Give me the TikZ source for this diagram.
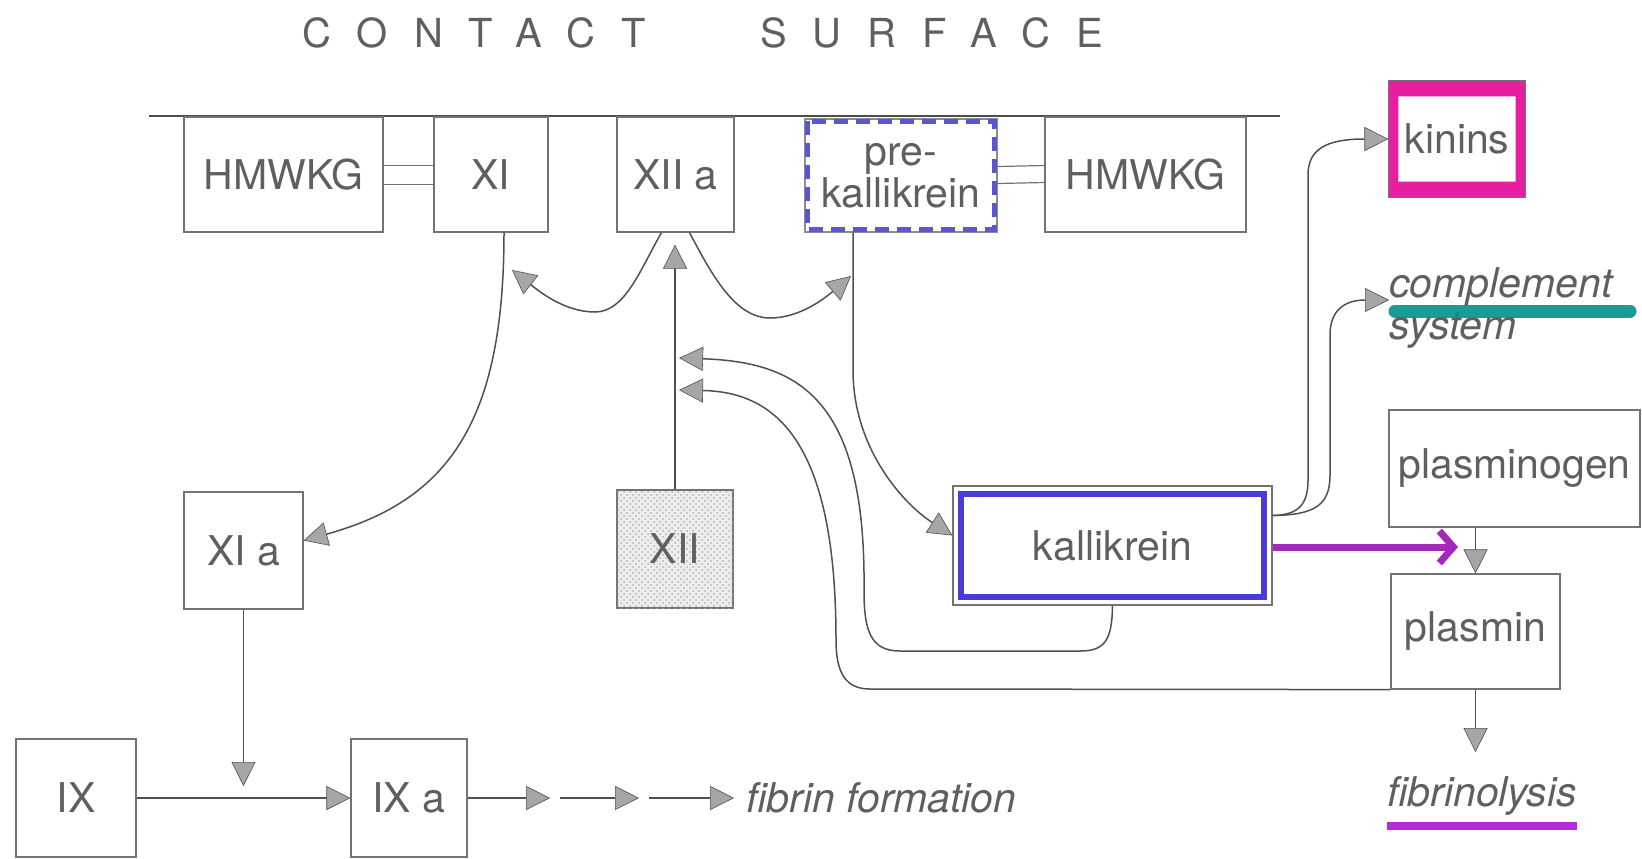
\documentclass[tikz,border=0pt]{standalone}
\usepackage{fontspec}
\setmainfont{TeX Gyre Heros}
\newfontfamily\titlefam[LetterSpace=65]{TeX Gyre Heros}
\usetikzlibrary{arrows.meta,patterns,calc}
\definecolor{ink}{RGB}{80,80,80}
\definecolor{txt}{RGB}{95,95,95}
\definecolor{kinmag}{RGB}{232,30,160}
\definecolor{kalblue}{RGB}{75,60,215}
\definecolor{pkblue}{RGB}{90,85,215}
\definecolor{arrmag}{RGB}{165,40,190}
\definecolor{fibmag}{RGB}{180,45,215}
\definecolor{compteal}{RGB}{0,145,135}
\newcommand\lblsize{\fontsize{20.5}{21}\selectfont}
\begin{document}
\begin{tikzpicture}[x=0.5pt,y=-0.5pt,
  box/.style={draw=black!55, line width=0.6pt, inner sep=0pt, text=txt, font=\lblsize},
  lbl/.style={inner sep=0pt, text=txt, font=\lblsize\itshape},
  conn/.style={draw=ink, line width=0.75pt},
  arr/.style={-{Triangle[length=12pt,width=12pt,fill=black!35,line width=0.3pt]}}]
\useasboundingbox (0,0) rectangle (1642,858);

% title and contact surface
\node[anchor=west, inner sep=0pt, text=txt, font={\titlefam\fontsize{20}{24}\selectfont}] (title) at (302,33) {CONTACT\hspace{57pt}SURFACE};
\coordinate (surfL) at (149,116);
\coordinate (surfR) at (1280,116);
\draw[line width=0.8pt, black!70] (surfL) -- (surfR);

% nodes
\node[box, minimum width=99.5pt, minimum height=57.5pt] (hm1) at (283.5,174.5) {HMWKG};
\node[box, minimum width=57pt, minimum height=57.5pt] (xi) at (491,174.5) {XI};
\node[box, minimum width=58.5pt, minimum height=57.5pt] (xiia) at (675.5,174.5) {XII a};
\node[box, draw=black!45, minimum width=96pt, minimum height=56.5pt, align=center] (pk) at (901,175.5) {pre-\\kallikrein};
\node[box, minimum width=100.5pt, minimum height=57.5pt] (hm2) at (1145.5,174.5) {HMWKG};
\node[box, minimum width=68pt, minimum height=58pt] (kin) at (1457,139) {kinins};
\node[lbl, anchor=west, align=left] (cpl) at (1389,308) {complement\\system};
\node[box, minimum width=125.5pt, minimum height=58.5pt] (plg) at (1514.5,468.5) {plasminogen};
\node[box, minimum width=84.5pt, minimum height=57.5pt] (pls) at (1475.5,631.5) {plasmin};
\node[box, minimum width=159.5pt, minimum height=59.5pt] (kal) at (1112.5,545.5) {kallikrein};
\node[box, fill=black!7, postaction={pattern=crosshatch dots, pattern color=black!30}, minimum width=58pt, minimum height=59pt] (xii) at (675,549) {XII};
\node[box, minimum width=59.5pt, minimum height=58.5pt] (xia) at (243.5,550.5) {XI a};
\node[box, minimum width=60pt, minimum height=59pt] (ix) at (76,798) {IX};
\node[box, minimum width=58pt, minimum height=59pt] (ixa) at (409,798) {IX a};
\node[lbl, anchor=west] (ff) at (746,798) {fibrin formation};
\node[lbl] (fib) at (1482,796) {fibrinolysis};

% colour highlights
\draw[pkblue, line width=2.5pt, dash pattern=on 7pt off 4pt] ([shift={(1.5pt,-1.5pt)}]pk.north west) rectangle ([shift={(-1.5pt,1.5pt)}]pk.south east);
\fill[kinmag, even odd rule] (kin.north west) rectangle (kin.south east)
   ([shift={(5pt,-8pt)}]kin.north west) rectangle ([shift={(-5pt,8pt)}]kin.south east);
\draw[black!55, line width=0.6pt] (kin.north west) rectangle (kin.south east);
\draw[kalblue, line width=3pt] ([shift={(4.5pt,-4.5pt)}]kal.north west) rectangle ([shift={(-4.5pt,4.5pt)}]kal.south east);
\draw[compteal, line width=6.5pt, line cap=round, opacity=0.9] (1395,311) -- (1630,311);
\draw[fibmag, line width=4pt] ([yshift=-5pt]fib.south west) -- ([yshift=-5pt]fib.south east);

% binding double lines
\draw[black!55, line width=0.6pt] ([yshift=4.5pt]hm1.east) -- ([yshift=4.5pt]xi.west);
\draw[black!55, line width=0.6pt] ([yshift=-5pt]hm1.east) -- ([yshift=-5pt]xi.west);
\draw[black!55, line width=0.6pt] ([yshift=4.5pt]pk.east) -- ([yshift=4.5pt]hm2.west);
\draw[black!55, line width=0.6pt] ([yshift=-4pt]pk.east) -- ([yshift=-4pt]hm2.west);

% free ends
\coordinate (tXI) at (512,270);
\coordinate (tPK) at (851,276);
\coordinate (tU) at (679,358);
\coordinate (tL) at (679,390);
\coordinate (tMag) at (1458,547);
\coordinate (c1) at (550,798);
\coordinate (c2a) at (560,798);
\coordinate (c2) at (639,798);
\coordinate (c3a) at (649,798);
\coordinate (c3) at (734,798);

% connectors
\draw[conn,arr,shorten >=6pt] (xii.north) -- (xii.north |- xiia.south);
\draw[conn,arr] ([xshift=-7pt]xiia.south) .. controls (640,270) and (625,312) .. (595,312) .. controls (565,312) and (540,292) .. (tXI);
\draw[conn,arr] ([xshift=7pt]xiia.south) .. controls (712,275) and (735,318) .. (770,318) .. controls (800,318) and (825,298) .. (tPK);
\draw[conn,arr] ([xshift=6.5pt]xi.south) .. controls (504,420) and (450,500) .. ([yshift=5pt]xia.east);
\draw[conn,arr] ([xshift=-24pt]pk.south) -- (853,370) .. controls (853,450) and (905,505) .. ([yshift=5pt]kal.west);
\draw[conn,arr] (kal.south) .. controls (1112,640) and (1105,651) .. (1080,651) -- (900,651) .. controls (870,651) and (864,630) .. (864,590) .. controls (866,400) and (800,362) .. (tU);
\draw[conn,arr] (pls.south west) -- (870,689) .. controls (845,689) and (836,672) .. (836,640) .. controls (836,440) and (775,392) .. (tL);
\draw[conn,arr] ([yshift=15pt]kal.east) .. controls (1298,515) and (1308,505) .. (1308,480) -- (1308,175) .. controls (1308,150) and (1325,139) .. (kin.west);
\draw[conn,arr] ([yshift=15pt]kal.east) .. controls (1315,515) and (1330,505) .. (1330,475) -- (1330,335) .. controls (1330,310) and (1345,300) .. ([yshift=4pt]cpl.west);
\draw[arrmag, line width=3.5pt, -{Straight Barb[length=7pt,width=16pt]}] (kal.east |- tMag) -- (tMag);
\draw[conn,arr] (pls.north |- plg.south) -- (pls.north);
\draw[conn,arr,shorten >=12pt] (pls.south) -- (pls.south |- fib.north);
\draw[conn,arr,shorten >=6pt] (xia.south) -- (xia.south |- ix.east);
\draw[conn,arr] (ix.east) -- (ixa.west);
\draw[conn,arr] (ixa.east) -- (c1);
\draw[conn,arr] (c2a) -- (c2);
\draw[conn,arr] (c3a) -- (c3);
\end{tikzpicture}
\end{document}
